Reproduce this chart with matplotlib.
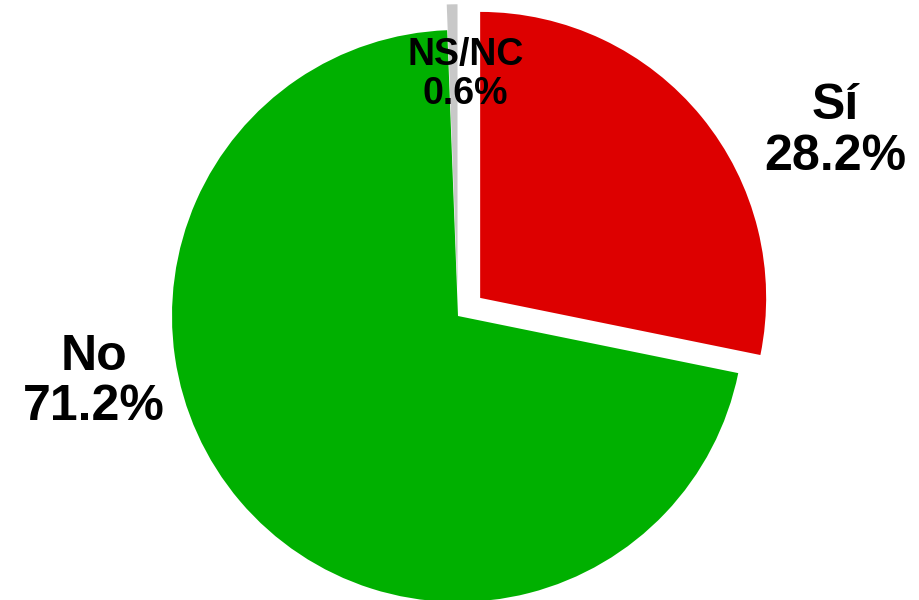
import matplotlib
matplotlib.use("Agg")
import matplotlib.pyplot as plt

# survey answers
labels = ["Sí", "No", "NS/NC"]
values = [28.2, 71.2, 0.6]
colors = ["#DD0000", "#00B000", "#C8C8C8"]
explode = [0.1, 0.0, 0.09]

fig = plt.figure(figsize=(9.19, 6), dpi=100)
ax = fig.add_axes([0, 0, 1, 1])

ax.pie(values, colors=colors, explode=explode, startangle=90,
       counterclock=False, radius=1.0, wedgeprops=dict(linewidth=0))

# 1 data unit = 286 px, pie centre at (458, 316) px from top-left
ax.set_xlim(-458 / 286, (919 - 458) / 286)
ax.set_ylim(-(600 - 316) / 286, 316 / 286)
ax.set_aspect("auto")
ax.axis("off")

font = ["Liberation Sans", "DejaVu Sans"]
label_pos = [(1.318, 0.645), (-1.273, -0.23), (0.027, 0.845)]
sizes = [36, 36, 27]
for lab, val, (x, y), fs in zip(labels, values, label_pos, sizes):
    ax.text(x, y, f"{lab}\n{val:.1f}%", ha="center", va="center",
            fontsize=fs, fontweight="bold", family=font,
            linespacing=1.12, color="black")

fig.savefig("out.png", dpi=100)
